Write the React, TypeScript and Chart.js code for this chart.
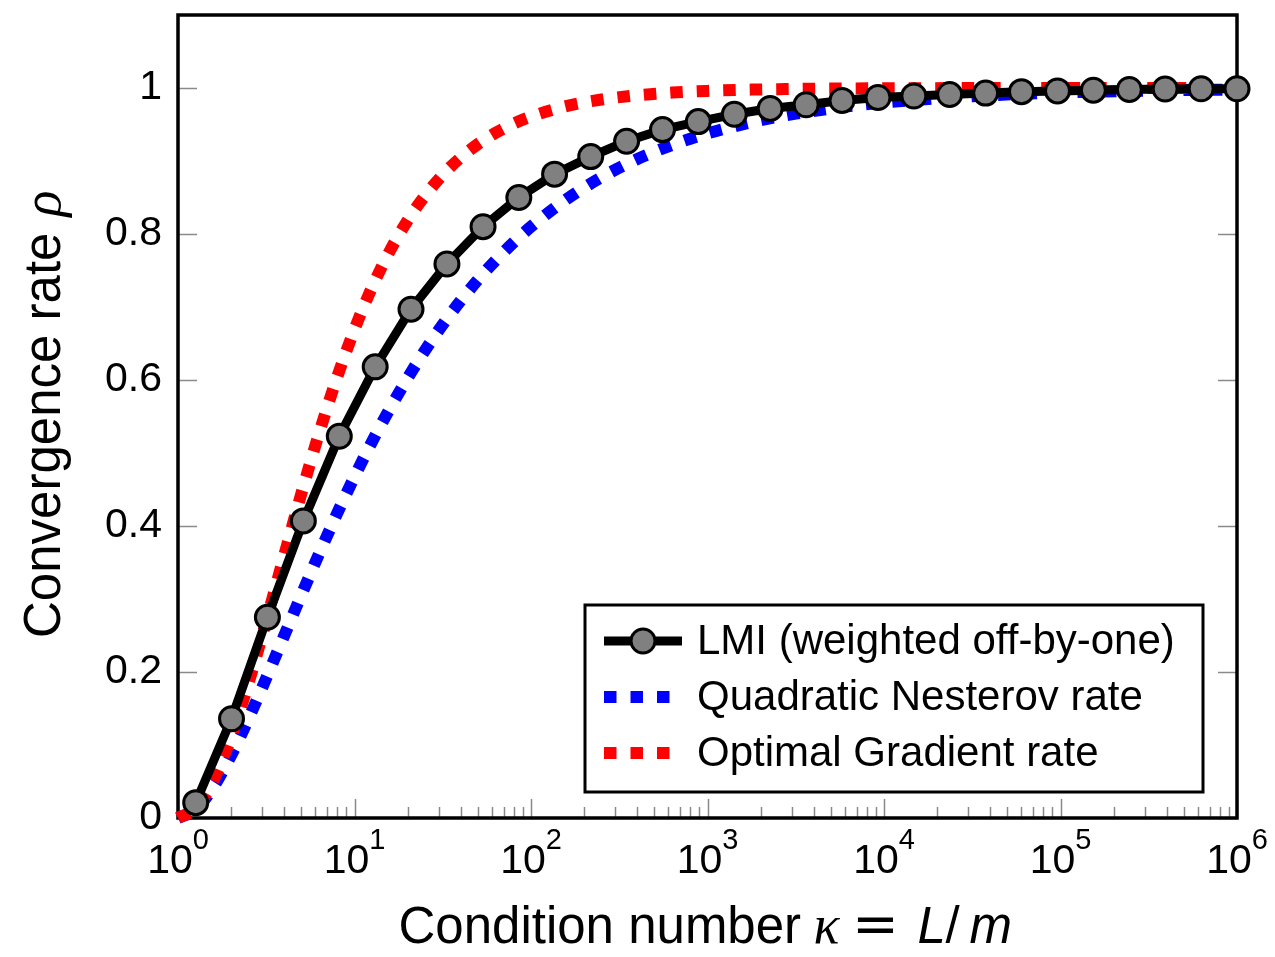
import React, { useEffect, useRef } from 'react';
import { Chart, registerables } from 'chart.js';

Chart.register(...registerables);

// ---- Data ----
const lmiKappa = [1.26, 2.01, 3.21, 5.13, 8.2, 13.1, 20.9, 33.4, 53.5, 85.3, 136, 218, 348, 556, 887, 1419, 2265, 3622, 5781, 9247, 14757, 23550, 37670, 60120, 96160, 153500, 245500, 391700, 626600, 1000000];
const lmiRho = [0.021, 0.136, 0.275, 0.407, 0.523, 0.618, 0.697, 0.759, 0.81, 0.85, 0.882, 0.906, 0.927, 0.943, 0.954, 0.964, 0.972, 0.977, 0.983, 0.987, 0.989, 0.991, 0.993, 0.995, 0.996, 0.997, 0.998, 0.9986, 0.999, 0.999];

const rateKappa = [1, 1.259, 1.585, 1.995, 2.512, 3.162, 3.981, 5.012, 6.31, 7.943, 10, 12.59, 15.85, 19.95, 25.12, 31.62, 39.81, 50.12, 63.1, 79.43, 100, 158.5, 251.2, 398.1, 631, 1000, 1778, 3162, 5623, 10000, 31623, 100000, 316228, 1000000];
const nesterovRho = [0, 0.0118, 0.0423, 0.0853, 0.1362, 0.1916, 0.2488, 0.3061, 0.3623, 0.4163, 0.4676, 0.5158, 0.5607, 0.6023, 0.6408, 0.676, 0.7081, 0.7374, 0.7641, 0.7882, 0.81, 0.8474, 0.8778, 0.9023, 0.922, 0.9378, 0.9531, 0.9648, 0.9735, 0.9801, 0.9888, 0.9937, 0.9964, 0.998];
const gradientRho = [0, 0.0131, 0.0512, 0.1104, 0.1853, 0.2699, 0.3582, 0.4453, 0.5276, 0.6027, 0.6694, 0.7273, 0.7767, 0.8182, 0.8527, 0.8811, 0.9044, 0.9233, 0.9386, 0.9509, 0.9608, 0.9751, 0.9842, 0.99, 0.9937, 0.996, 0.9978, 0.9987, 0.9993, 0.9996, 0.9999, 1.0, 1.0, 1.0];

const seriesLabels = ['LMI (weighted off-by-one)', 'Quadratic Nesterov rate', 'Optimal Gradient rate'];
const xTickExponents = ['0', '1', '2', '3', '4', '5', '6'];
const yTickValues = [0, 0.2, 0.4, 0.6, 0.8, 1];
const yTickLabels = ['0', '0.2', '0.4', '0.6', '0.8', '1'];

const SANS = '"Liberation Sans", Arial, Helvetica, sans-serif';
const SERIF = '"Liberation Serif", "DejaVu Serif", serif';

const decorPlugin = {
  id: 'decor',
  beforeDatasetsDraw(chart: any) {
    const { ctx, chartArea, scales } = chart;
    const { left, right, top, bottom } = chartArea;
    const xs = scales.x;
    const ys = scales.y;
    ctx.save();
    // tick marks
    ctx.strokeStyle = '#8a8a8a';
    ctx.lineWidth = 1.5;
    ctx.beginPath();
    for (const v of yTickValues) {
      const py = Math.round(ys.getPixelForValue(v)) + 0.5;
      ctx.moveTo(left, py); ctx.lineTo(left + 19, py);
      ctx.moveTo(right, py); ctx.lineTo(right - 19, py);
    }
    for (let d = 0; d < xTickExponents.length; d++) {
      const base = Math.pow(10, d);
      const px = Math.round(xs.getPixelForValue(base)) + 0.5;
      ctx.moveTo(px, bottom); ctx.lineTo(px, bottom - 19);
      if (d < xTickExponents.length - 1) {
        for (let m = 2; m <= 9; m++) {
          const mx = Math.round(xs.getPixelForValue(m * base)) + 0.5;
          ctx.moveTo(mx, bottom); ctx.lineTo(mx, bottom - 11);
        }
      }
    }
    ctx.stroke();
    // frame
    ctx.strokeStyle = '#000';
    ctx.lineWidth = 3.5;
    ctx.strokeRect(left, top, right - left, bottom - top);

    // x tick labels with superscripts
    ctx.fillStyle = '#000';
    ctx.textBaseline = 'alphabetic';
    ctx.textAlign = 'left';
    for (let d = 0; d < xTickExponents.length; d++) {
      const px = xs.getPixelForValue(Math.pow(10, d));
      ctx.font = `41px ${SANS}`;
      const w1 = ctx.measureText('10').width;
      ctx.font = `29px ${SANS}`;
      const w2 = ctx.measureText(xTickExponents[d]).width;
      const sx = px - (w1 + w2) / 2;
      ctx.font = `41px ${SANS}`;
      ctx.fillText('10', sx, 873);
      ctx.font = `29px ${SANS}`;
      ctx.fillText(xTickExponents[d], sx + w1, 849);
    }

    // x title: pieces positioned relative to the plot centre
    const cx = (left + right) / 2;
    ctx.font = `51px ${SANS}`;
    ctx.fillText('Condition number', cx - 309, 943);
    ctx.font = `italic 54px ${SERIF}`;
    ctx.fillText('κ', cx + 106, 943);
    ctx.font = `56px "DejaVu Sans", ${SANS}`;
    ctx.textAlign = 'center';
    ctx.fillText('=', cx + 168, 943);
    ctx.textAlign = 'left';
    ctx.font = `italic 51px ${SANS}`;
    ctx.fillText('L', cx + 210, 943);
    ctx.font = `51px ${SANS}`;
    ctx.fillText('/', cx + 238, 943);
    ctx.font = `italic 51px ${SANS}`;
    ctx.fillText('m', cx + 262, 943);

    // y title (rotated)
    ctx.save();
    ctx.translate(60, 638);
    ctx.rotate(-Math.PI / 2);
    ctx.textAlign = 'left';
    ctx.font = `51px ${SANS}`;
    ctx.fillText('Convergence rate', 0, 0);
    const w = ctx.measureText('Convergence rate').width;
    ctx.font = `italic 54px ${SERIF}`;
    ctx.fillText('ρ', w + 16, 0);
    ctx.restore();
    ctx.restore();
  },
  afterDatasetsDraw(chart: any) {
    const { ctx } = chart;
    ctx.save();
    const bx = 585, by = 605, bw = 618, bh = 187;
    ctx.fillStyle = '#fff';
    ctx.fillRect(bx, by, bw, bh);
    ctx.strokeStyle = '#000';
    ctx.lineWidth = 3;
    ctx.strokeRect(bx, by, bw, bh);
    const rows = [641, 697, 753];
    // LMI sample
    ctx.strokeStyle = '#000';
    ctx.lineWidth = 9;
    ctx.beginPath(); ctx.moveTo(604, rows[0]); ctx.lineTo(682, rows[0]); ctx.stroke();
    ctx.beginPath(); ctx.arc(643, rows[0], 12, 0, Math.PI * 2);
    ctx.fillStyle = '#808080'; ctx.fill();
    ctx.lineWidth = 3; ctx.stroke();
    // dotted samples
    const cols = ['#0000ff', '#ff0000'];
    for (let i = 0; i < 2; i++) {
      ctx.fillStyle = cols[i];
      for (let k = 0; k < 3; k++) {
        ctx.fillRect(604 + k * 26.5, rows[i + 1] - 6, 12.5, 12);
      }
    }
    ctx.fillStyle = '#000';
    ctx.font = `42px ${SANS}`;
    ctx.textBaseline = 'middle';
    ctx.textAlign = 'left';
    for (let i = 0; i < 3; i++) ctx.fillText(seriesLabels[i], 697, rows[i] + 1);
    ctx.restore();
  },
};

export default function App() {
  const ref = useRef<HTMLCanvasElement | null>(null);
  useEffect(() => {
    if (!ref.current) return;
    const chart = new Chart(ref.current, {
      type: 'line',
      data: {
        datasets: [
          {
            label: seriesLabels[0],
            data: lmiKappa.map((x, i) => ({ x, y: lmiRho[i] })),
            borderColor: '#000',
            borderWidth: 9,
            pointRadius: 12,
            pointBackgroundColor: '#808080',
            pointBorderColor: '#000',
            pointBorderWidth: 3,
            tension: 0,
            order: 0,
            clip: false,
          } as any,
          {
            label: seriesLabels[1],
            data: rateKappa.map((x, i) => ({ x, y: nesterovRho[i] })),
            borderColor: '#0000ff',
            borderWidth: 12,
            borderDash: [12.5, 14],
            borderCapStyle: 'butt',
            pointRadius: 0,
            cubicInterpolationMode: 'monotone',
            order: 2,
            clip: false,
          } as any,
          {
            label: seriesLabels[2],
            data: rateKappa.map((x, i) => ({ x, y: gradientRho[i] })),
            borderColor: '#ff0000',
            borderWidth: 12,
            borderDash: [12.5, 14],
            borderCapStyle: 'butt',
            pointRadius: 0,
            cubicInterpolationMode: 'monotone',
            order: 1,
            clip: false,
          } as any,
        ],
      },
      options: {
        animation: false,
        responsive: true,
        maintainAspectRatio: false,
        layout: { padding: { top: 12, right: 38, left: 0, bottom: 0 } },
        plugins: { legend: { display: false }, tooltip: { enabled: false } },
        scales: {
          x: {
            type: 'logarithmic',
            min: 1,
            max: 1000000,
            grid: { display: false, drawTicks: false },
            border: { display: false },
            ticks: { display: false },
            afterFit: (s: any) => {
              s.height = 139;
              s.paddingLeft = 0; s.paddingRight = 0;
            },
          },
          y: {
            min: 0,
            max: 1.1,
            grid: { display: false, drawTicks: false },
            border: { display: false },
            ticks: {
              stepSize: 0.2,
              padding: 16,
              color: '#000',
              font: { family: SANS, size: 41 },
              callback: (v: any) => {
                const idx = yTickValues.findIndex((t) => Math.abs(t - Number(v)) < 1e-6);
                return idx >= 0 ? yTickLabels[idx] : null;
              },
            },
            afterFit: (s: any) => {
              s.width = 178;
              s.paddingTop = 0; s.paddingBottom = 0;
            },
          },
        },
      } as any,
      plugins: [decorPlugin],
    });
    return () => chart.destroy();
  }, []);
  return (
    <div style={{ position: 'fixed', left: 0, top: 0, width: 1275, height: 957, background: '#fff' }}>
      <canvas ref={ref} />
    </div>
  );
}
